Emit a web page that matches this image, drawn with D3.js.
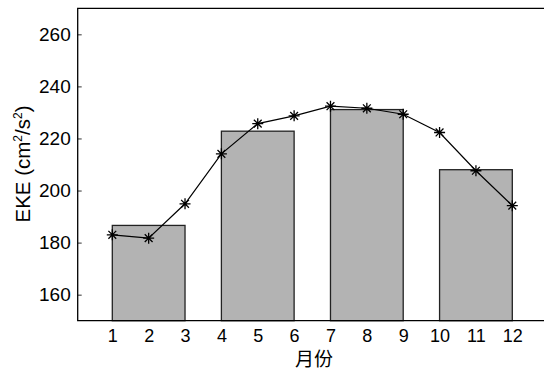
<!DOCTYPE html>
<html>
<head>
<meta charset="utf-8">
<script src="https://cdn.jsdelivr.net/npm/d3@7"></script>
<style>
  body { margin: 0; background: #fff; overflow: hidden; }
</style>
</head>
<body>
<script>
// monthly EKE values (line with * markers)
const months = [1, 2, 3, 4, 5, 6, 7, 8, 9, 10, 11, 12];
const monthlyEKE = [183.0, 181.7, 194.9, 214.1, 225.7, 228.7, 232.4, 231.6, 229.3, 222.3, 207.6, 194.2];
// seasonal means (grey bars), each spanning three months
const seasonStart = [1, 4, 7, 10];
const seasonEnd = [3, 6, 9, 12];
const seasonEKE = [186.6, 222.8, 231.1, 208.0];
const yTicks = [160, 180, 200, 220, 240, 260];

function init() {
  const svg = d3.select("body").append("svg")
    .attr("width", 544)
    .attr("height", 371);

  const left = 77.7, top = 8.3, bottom = 320.7, right = 560;

  const x = d3.scaleLinear().domain([1, 12]).range([112.3, 512.3]);
  const y = d3.scaleLinear().domain([150, 270]).range([bottom, top]);

  // bars
  svg.selectAll()
    .data(seasonEKE)
    .enter()
      .append("rect")
      .attr("x", (d, i) => x(seasonStart[i]))
      .attr("y", d => y(d))
      .attr("width", (d, i) => x(seasonEnd[i]) - x(seasonStart[i]))
      .attr("height", d => y(150) - y(d))
      .attr("fill", "#b3b3b3")
      .attr("stroke", "#222")
      .attr("stroke-width", 1.3);

  // y ticks (inward) and labels
  const yAxis = d3.axisLeft(y).tickValues(yTicks).tickSizeInner(-4).tickSizeOuter(0).tickPadding(7);
  const ya = svg.append("g")
    .attr("transform", `translate(${left},0)`)
    .call(yAxis);
  ya.select(".domain").remove();
  ya.selectAll(".tick line").attr("stroke", "#333").attr("stroke-width", 1);
  ya.selectAll(".tick text")
    .attr("font-family", "Liberation Sans, Arial, sans-serif")
    .attr("font-size", "19px")
    .attr("fill", "#000");

  // x labels
  const xAxis = d3.axisBottom(x).tickValues(months).tickSize(0).tickPadding(8.5);
  const xa = svg.append("g")
    .attr("transform", `translate(0,${bottom})`)
    .call(xAxis);
  xa.select(".domain").remove();
  xa.selectAll(".tick text")
    .attr("font-family", "Liberation Sans, Arial, sans-serif")
    .attr("font-size", "18px")
    .attr("fill", "#000");

  // frame
  svg.append("path")
    .attr("d", `M${right},${top}H${left}V${bottom}H${right}`)
    .attr("fill", "none")
    .attr("stroke", "#000")
    .attr("stroke-width", 1.3);

  // monthly line
  const line = d3.line()
    .x((d, i) => x(months[i]))
    .y(d => y(d));
  svg.append("path")
    .datum(monthlyEKE)
    .attr("d", line)
    .attr("fill", "none")
    .attr("stroke", "#000")
    .attr("stroke-width", 1.2);

  // asterisk markers
  const r = 5.5, r2 = 3.9;
  const star = `M${-r},0H${r}M0,${-r}V${r}M${-r2},${-r2}L${r2},${r2}M${-r2},${r2}L${r2},${-r2}`;
  svg.selectAll()
    .data(monthlyEKE)
    .enter()
      .append("path")
      .attr("transform", (d, i) => `translate(${x(months[i])},${y(d)})`)
      .attr("d", star)
      .attr("stroke", "#000")
      .attr("stroke-width", 1.3)
      .attr("fill", "none");

  // axis titles
  svg.append("text")
    .attr("x", 314)
    .attr("y", 366)
    .attr("text-anchor", "middle")
    .attr("font-family", "Noto Sans CJK SC, sans-serif")
    .attr("font-size", "19px")
    .attr("fill", "#000")
    .text("月份");

  const yt = svg.append("text")
    .attr("transform", "translate(29.5,164) rotate(-90)")
    .attr("text-anchor", "middle")
    .attr("font-family", "Liberation Sans, Arial, sans-serif")
    .attr("font-size", "20.5px")
    .attr("fill", "#000");
  yt.append("tspan").text("EKE (cm");
  yt.append("tspan").attr("dy", -8).attr("font-size", "12px").text("2");
  yt.append("tspan").attr("dy", 8).text("/s");
  yt.append("tspan").attr("dy", -8).attr("font-size", "12px").text("2");
  yt.append("tspan").attr("dy", 8).text(")");
}

init();
</script>
</body>
</html>
